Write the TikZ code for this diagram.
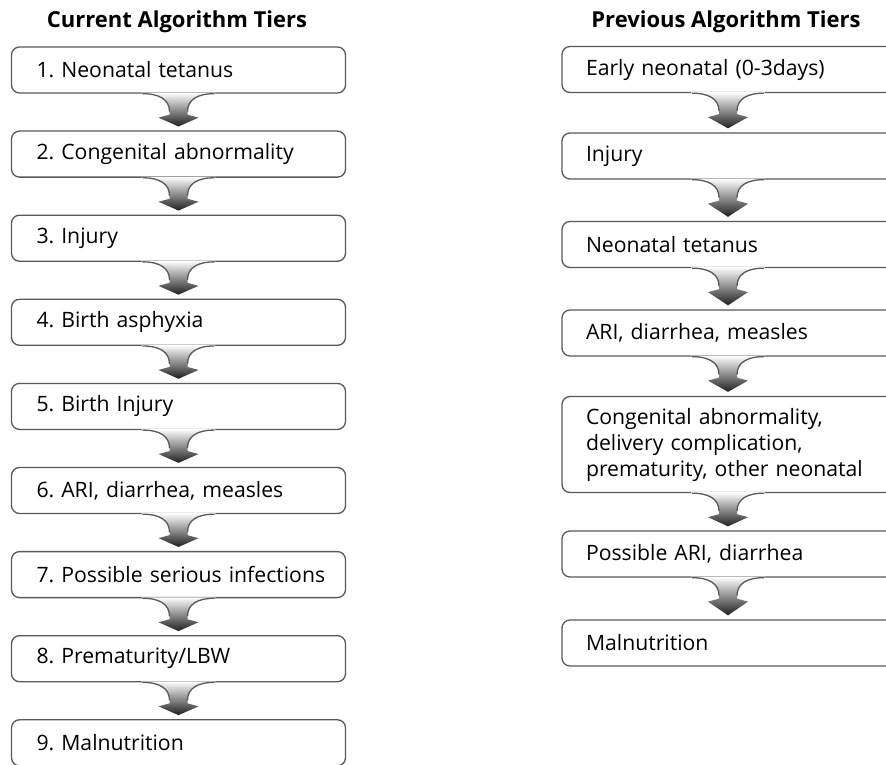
\documentclass[tikz,border=0pt]{standalone}
\usepackage{fontspec}
\setmainfont{Open Sans}
\usepackage{tikz}
\usetikzlibrary{calc}

% funnel arrow hanging under box #1, tip just above box #2
\newcommand{\tierarrow}[2]{%
  \coordinate (tip) at ($(#2.north)+(0,-4)$);
  \begin{scope}[shift={(#1.south)}]
    \path[tierfill] (-37,-1) -- (-36,0) .. controls (-19,0) and (-9,6) .. (-9,18)
      -- (-9,21) -- (-20,24) -- (tip) -- (20,24) -- (9,21) -- (9,18)
      .. controls (9,6) and (19,0) .. (36,0) -- (37,-1) -- cycle;
    \draw[tierline] (-36,0) .. controls (-19,0) and (-9,6) .. (-9,18);
    \draw[tierline] (36,0) .. controls (19,0) and (9,6) .. (9,18);
  \end{scope}}

\begin{document}
\begin{tikzpicture}[
  x=1pt, y=-1pt,
  font=\fontsize{21.2}{26}\selectfont\frenchspacing,
  tier/.style={draw=black!65, line width=1.3pt, rounded corners=8pt,
    minimum width=334pt, minimum height=46pt, inner xsep=0pt,
    text width=316pt, align=left, execute at begin node={\leftskip=16pt}},
  prevtier/.style={draw=black!65, line width=1.3pt, rounded corners=8pt,
    minimum width=332pt, minimum height=46pt, inner xsep=0pt,
    text width=284pt, align=left},
  head/.style={font=\fontsize{22}{26}\selectfont\bfseries, anchor=base},
  tierfill/.style={top color=white, bottom color=black!88},
  tierline/.style={draw=black!65, line width=1.3pt},
]
\useasboundingbox (0,0) rectangle (886,765);
\clip (0,0) rectangle (886,765);
% ---- titles
\node[head] (curtitle) at (177,28) {Current Algorithm Tiers};
\node[head] (prevtitle) at (726,28) {Previous Algorithm Tiers};
% ---- current tiers
\foreach \i/\txt in {1/{1. Neonatal tetanus}, 2/{2. Congenital abnormality},
    3/{3. Injury}, 4/{4. Birth asphyxia}, 5/{5. Birth Injury},
    6/{6. ARI, diarrhea, measles}, 7/{7. Possible serious infections},
    8/{8. Prematurity/LBW}, 9/{9. Malnutrition}}
  \node[tier] (cur\i) at (178.5, {70+84.1*(\i-1)}) {\txt};
% ---- previous tiers
\foreach \i/\y/\txt in {1/69.5/{Early neonatal (0-3days)}, 2/156/{Injury},
    3/244.5/{Neonatal tetanus}, 4/333/{ARI, diarrhea, measles},
    6/554/{Possible ARI, diarrhea}, 7/643/{Malnutrition}}
  \node[prevtier] (prev\i) at (728,\y) {\txt};
\node[prevtier, minimum height=96pt] (prev5) at (728,444.5)
  {Congenital abnormality,\\ delivery complication,\\ prematurity, other neonatal};
% ---- arrows
\foreach \i/\j in {1/2,2/3,3/4,4/5,5/6,6/7,7/8,8/9}
  \tierarrow{cur\i}{cur\j};
\foreach \i/\j in {1/2,2/3,3/4,4/5,5/6,6/7}
  \tierarrow{prev\i}{prev\j};
\end{tikzpicture}
\end{document}
